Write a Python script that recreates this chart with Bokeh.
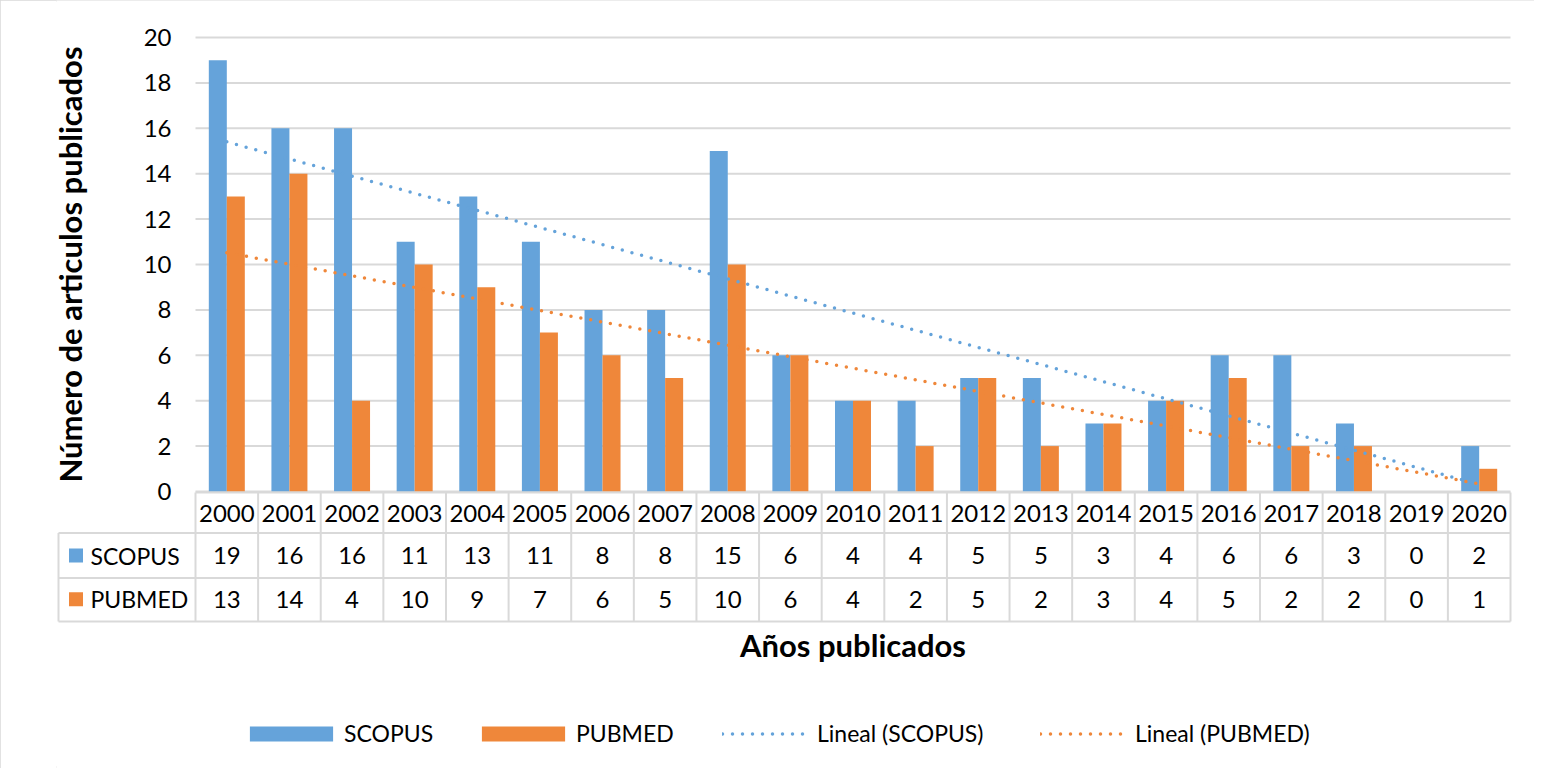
import numpy as np
from bokeh.plotting import figure
from bokeh.models import Range1d, ColumnDataSource, FixedTicker, Legend, LegendItem, Label
from bokeh.core.properties import value
from bokeh.embed import file_html
from bokeh.resources import INLINE

# ---------------- data ----------------
years = ["2000", "2001", "2002", "2003", "2004", "2005", "2006", "2007", "2008", "2009",
         "2010", "2011", "2012", "2013", "2014", "2015", "2016", "2017", "2018", "2019", "2020"]
scopus = [19, 16, 16, 11, 13, 11, 8, 8, 15, 6, 4, 4, 5, 5, 3, 4, 6, 6, 3, 0, 2]
pubmed = [13, 14, 4, 10, 9, 7, 6, 5, 10, 6, 4, 2, 5, 2, 3, 4, 5, 2, 2, 0, 1]
series_names = ["SCOPUS", "PUBMED"]
trend_names = ["Lineal (SCOPUS)", "Lineal (PUBMED)"]
y_ticks = [0, 2, 4, 6, 8, 10, 12, 14, 16, 18, 20]
y_title = "Número de articulos publicados"
x_title = "Años publicados"

# ---------------- style / geometry ----------------
BLUE = "#65A3DA"
ORANGE = "#EF873A"
GRID = "#D9D9D9"
FONT = "Lato"
NUM = "24px"
WORD = "23px"
TITLE = "31px"
W, H = 1534, 768
BAR_W = 0.2875

PLOT_L, PLOT_R = 195, 1510      # pixel edges of the category area
Y0_PX, Y20_PX = 491, 37          # pixel rows of value 0 and value 20
FRAME_L = 56
COL_W = (PLOT_R - PLOT_L) / len(years)
UNIT = (Y0_PX - Y20_PX) / 20.0


def px(xp):
    """canvas x pixel -> category coordinate"""
    return -0.5 + (xp - PLOT_L) / COL_W


def py(yp):
    """canvas y pixel -> value coordinate"""
    return (Y0_PX - yp) / UNIT


idx = np.arange(len(years))
# Linear trend lines (least squares, like Excel's linear trendline)
s_fit = np.polyval(np.polyfit(idx, scopus, 1), idx)
p_fit = np.polyval(np.polyfit(idx, pubmed, 1), idx)

src = ColumnDataSource(dict(
    xs=idx - BAR_W / 2, xp=idx + BAR_W / 2, scopus=scopus, pubmed=pubmed,
    s_fit=s_fit, p_fit=p_fit, idx=idx, years=years,
    s_txt=[str(v) for v in scopus], p_txt=[str(v) for v in pubmed],
))

p = figure(width=W, height=H, x_range=Range1d(px(FRAME_L), px(W)), y_range=Range1d(py(H), py(0)),
           output_backend="svg", toolbar_location=None, x_axis_location=None,
           min_border_left=FRAME_L, min_border_right=0, min_border_top=0, min_border_bottom=0,
           styles={"outline": "2px solid #D9D9D9", "outline-offset": "-2px"})
p.outline_line_color = None
p.grid.visible = False

# y axis drawn at the left edge of the category area
ax = p.yaxis[0]
ax.fixed_location = -0.5
ax.ticker = FixedTicker(ticks=y_ticks)
ax.axis_line_color = None
ax.major_tick_line_color = None
ax.minor_tick_line_color = None
ax.major_tick_out = 0
ax.major_tick_in = 0
ax.major_label_standoff = 24
ax.major_label_text_font = FONT
ax.major_label_text_font_size = NUM
ax.major_label_text_color = "#000000"

# horizontal gridlines at the axis ticks
n = len(years)
p.segment(x0=[-0.5] * len(y_ticks), x1=[n - 0.5] * len(y_ticks), y0=y_ticks, y1=y_ticks,
          line_color=GRID, line_width=2)

# bars and trend lines
r_sb = p.vbar(x="xs", top="scopus", width=BAR_W, source=src, fill_color=BLUE, line_color=None)
r_pb = p.vbar(x="xp", top="pubmed", width=BAR_W, source=src, fill_color=ORANGE, line_color=None)
r_sl = p.line(x="idx", y="s_fit", source=src, line_color=BLUE, line_width=3.5, line_dash="0 10", line_cap="round")
r_pl = p.line(x="idx", y="p_fit", source=src, line_color=ORANGE, line_width=3.5, line_dash="0 10", line_cap="round")

# y-axis title
p.add_layout(Label(x=px(69), y=10, text=y_title, angle=np.pi / 2, text_align="center", text_baseline="middle",
                   text_font=FONT, text_font_size=TITLE, text_font_style="bold", text_color="#000000"))

# ---------------- data table ----------------
x_left = px(58)
x_right = n - 0.5
rows_px = [492, 532.5, 577.5, 621]
rows = [py(v) for v in rows_px]
p.segment(x0=[-0.5, x_left, x_left, x_left], x1=[x_right] * 4, y0=rows, y1=rows,
          line_color=GRID, line_width=2)
vx = [k - 0.5 for k in range(n + 1)]
p.segment(x0=vx, x1=vx, y0=[rows[0]] * len(vx), y1=[rows[3]] * len(vx), line_color=GRID, line_width=2)
p.segment(x0=[x_left], x1=[x_left], y0=[rows[1]], y1=[rows[3]], line_color=GRID, line_width=2)

ty = [py(513), py(555), py(598.5)]
for col, yy in zip(["years", "s_txt", "p_txt"], ty):
    p.text(x="idx", y=yy, text=col, source=src, text_align="center", text_baseline="middle",
           text_font=value(FONT), text_font_size=NUM, text_color="#000000")
p.text(x=[px(90), px(90)], y=ty[1:], text=series_names, text_align="left", text_baseline="middle",
       text_font=value(FONT), text_font_size=WORD, text_color="#000000")
p.rect(x=[px(75.5), px(75.5)], y=[py(555), py(598.7)], width=14, height=14, width_units="screen",
       height_units="screen", fill_color=[BLUE, ORANGE], line_color=None)

# x-axis title
p.add_layout(Label(x=px(852.5), y=py(644), text=x_title, text_align="center", text_baseline="middle",
                   text_font=FONT, text_font_size=TITLE, text_font_style="bold", text_color="#000000"))

# ---------------- legend ----------------
# (label, renderer, page x of glyph area, glyph width, glyph height, standoff)
legend_items = [(series_names[0], r_sb, 239, 104, 19, 1),
                (series_names[1], r_pb, 471, 104, 19, 1),
                (trend_names[0], r_sl, 722, 84, 15, 11),
                (trend_names[1], r_pl, 1040, 84, 15, 11)]
for label, r, xpage, gw, gh, so in legend_items:
    lg = Legend(items=[LegendItem(label=label, renderers=[r])], location=(xpage - FRAME_L, 21),
                orientation="horizontal", glyph_width=gw, glyph_height=gh, label_standoff=so,
                padding=0, margin=0, border_line_color=None, background_fill_alpha=0,
                label_text_font=FONT, label_text_font_size=WORD, label_text_color="#000000")
    p.add_layout(lg)

with open("out.html", "w") as f:
    f.write(file_html(p, INLINE))
